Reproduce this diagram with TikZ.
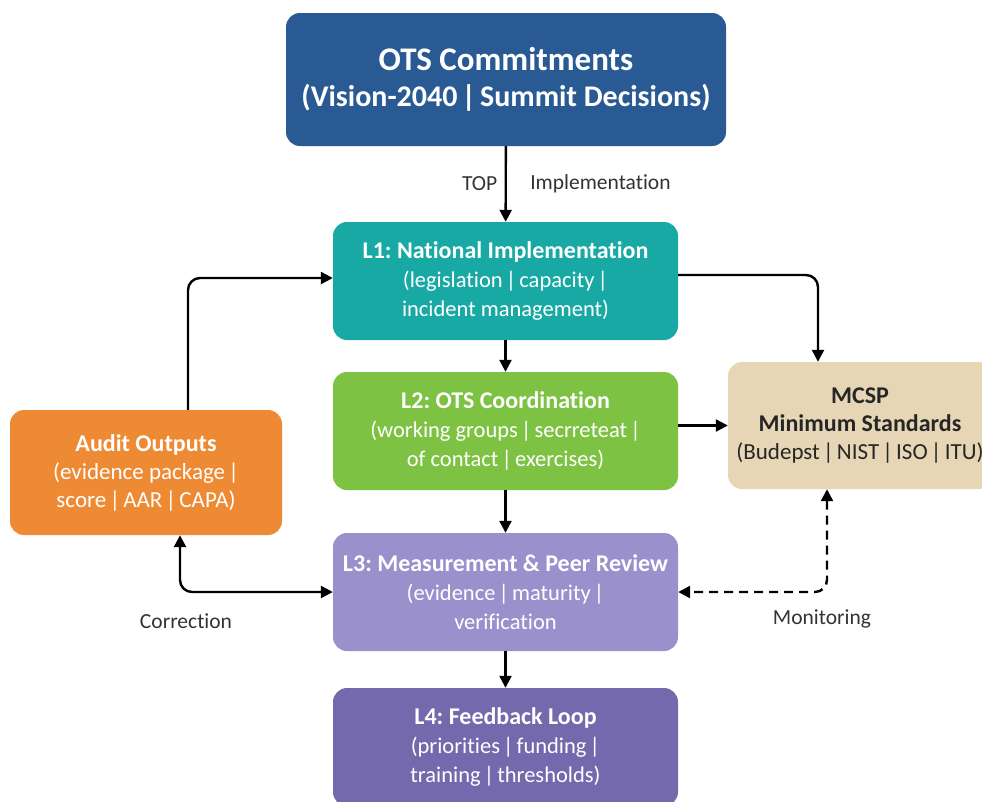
\documentclass[tikz,border=0pt]{standalone}
\usepackage{fontspec}
\setmainfont{Carlito}[Ligatures={NoCommon}]
\usetikzlibrary{arrows.meta}

\definecolor{otsblue}{HTML}{2A5A94}
\definecolor{nattteal}{HTML}{19A9A4}
\definecolor{coordgreen}{HTML}{7DC243}
\definecolor{reviewlav}{HTML}{9A90CC}
\definecolor{loopviolet}{HTML}{7469AC}
\definecolor{auditorange}{HTML}{EE8A33}
\definecolor{mcspbeige}{HTML}{E6D6B5}
\definecolor{notegray}{HTML}{333333}

\newcommand{\vsep}{\hspace{0.14em}|\hspace{0.14em}}
\frenchspacing

\tikzset{
  box/.style={rounded corners=14pt, text=white, align=center, inner sep=0pt,
    font=\fontsize{22.5}{29}\selectfont},
  layer/.style={box, minimum width=345pt, minimum height=118pt},
  link/.style={line width=2.4pt, -{Triangle[length=12pt,width=12pt]}},
  twoway/.style={line width=2.4pt, {Triangle[length=12pt,width=12pt]}-{Triangle[length=12pt,width=12pt]}},
  note/.style={text=notegray, font=\fontsize{21.5}{24}\selectfont}
}

\begin{document}
\begin{tikzpicture}[x=1pt, y=-1pt]
    \fill[white] (0,0) rectangle (982,801);
    \useasboundingbox (0,0) rectangle (982,801);

    % top and the four layers
    \node[box, fill=otsblue, minimum width=440pt, minimum height=133pt,
          font=\fontsize{33}{36}\selectfont\bfseries] (ots) at (506,79.5)
          {OTS Commitments\\{\fontsize{30}{36}\selectfont(Vision-2040\vsep Summit Decisions)}};
    \node[layer, fill=nattteal] (l1) at (505.5,281)
          {{\fontsize{24}{29}\selectfont\bfseries L1: National Implementation}\\(legislation\vsep capacity\vsep\\incident management)};
    \node[layer, fill=coordgreen] (l2) at (505.5,431)
          {{\fontsize{24}{29}\selectfont\bfseries L2: OTS Coordination}\\(working groups\vsep secrreteat\vsep\\of contact\vsep exercises)};
    \node[layer, fill=reviewlav] (l3) at (505.5,592)
          {{\fontsize{24}{29}\selectfont\bfseries L3: Measurement \& Peer Review}\\(evidence\vsep maturity\vsep\\verification};
    \node[layer, fill=loopviolet] (l4) at (505.5,747)
          {{\fontsize{24}{29}\selectfont\bfseries L4: Feedback Loop}\\(priorities\vsep funding\vsep\\training\vsep thresholds)};

    % side boxes
    \node[box, fill=auditorange, minimum width=272pt, minimum height=125pt,
          font=\fontsize{23}{28}\selectfont] (audit) at (146,472.5)
          {{\fontsize{24}{28}\selectfont\bfseries Audit Outputs}\\(evidence package\vsep\\score\vsep AAR\vsep CAPA)};
    \node[box, fill=mcspbeige, text=black!85, minimum width=264pt, minimum height=127pt,
          font=\fontsize{23}{28}\selectfont] (mcsp) at (860,425.5)
          {{\fontsize{24}{28}\selectfont\bfseries MCSP}\\{\fontsize{24}{28}\selectfont\bfseries Minimum Standards}\\(Budepst\vsep NIST\vsep ISO\vsep ITU)};

    % main chain
    \draw[link] (ots) -- (l1)
        node[note, midway, left=4pt] (top) {TOP}
        node[note, midway, right=20pt] (impl) {Implementation};
    \draw[link] (l1) -- (l2);
    \draw[link] (l2) -- (l3);
    \draw[link] (l3) -- (l4);

    % links to the sides
    \draw[link, rounded corners=12pt] ([yshift=6pt]l1.east) -| ([xshift=-42pt]mcsp.north);
    \draw[link] (mcsp.west -| l2.east) -- (mcsp.west);
    \draw[link, rounded corners=12pt] ([xshift=42pt]audit.north) |- ([yshift=3pt]l1.west);
    \draw[twoway, rounded corners=12pt] ([xshift=34pt]audit.south) |- (l3.west);
    \draw[twoway, dashed, dash pattern=on 9pt off 6pt, rounded corners=12pt]
        ([xshift=-33pt]mcsp.south) |- (l3.east);

    \node[note] (corr) at (186,621) {Correction};
    \node[note] (mon) at (822,619) {Monitoring};
\end{tikzpicture}
\end{document}
